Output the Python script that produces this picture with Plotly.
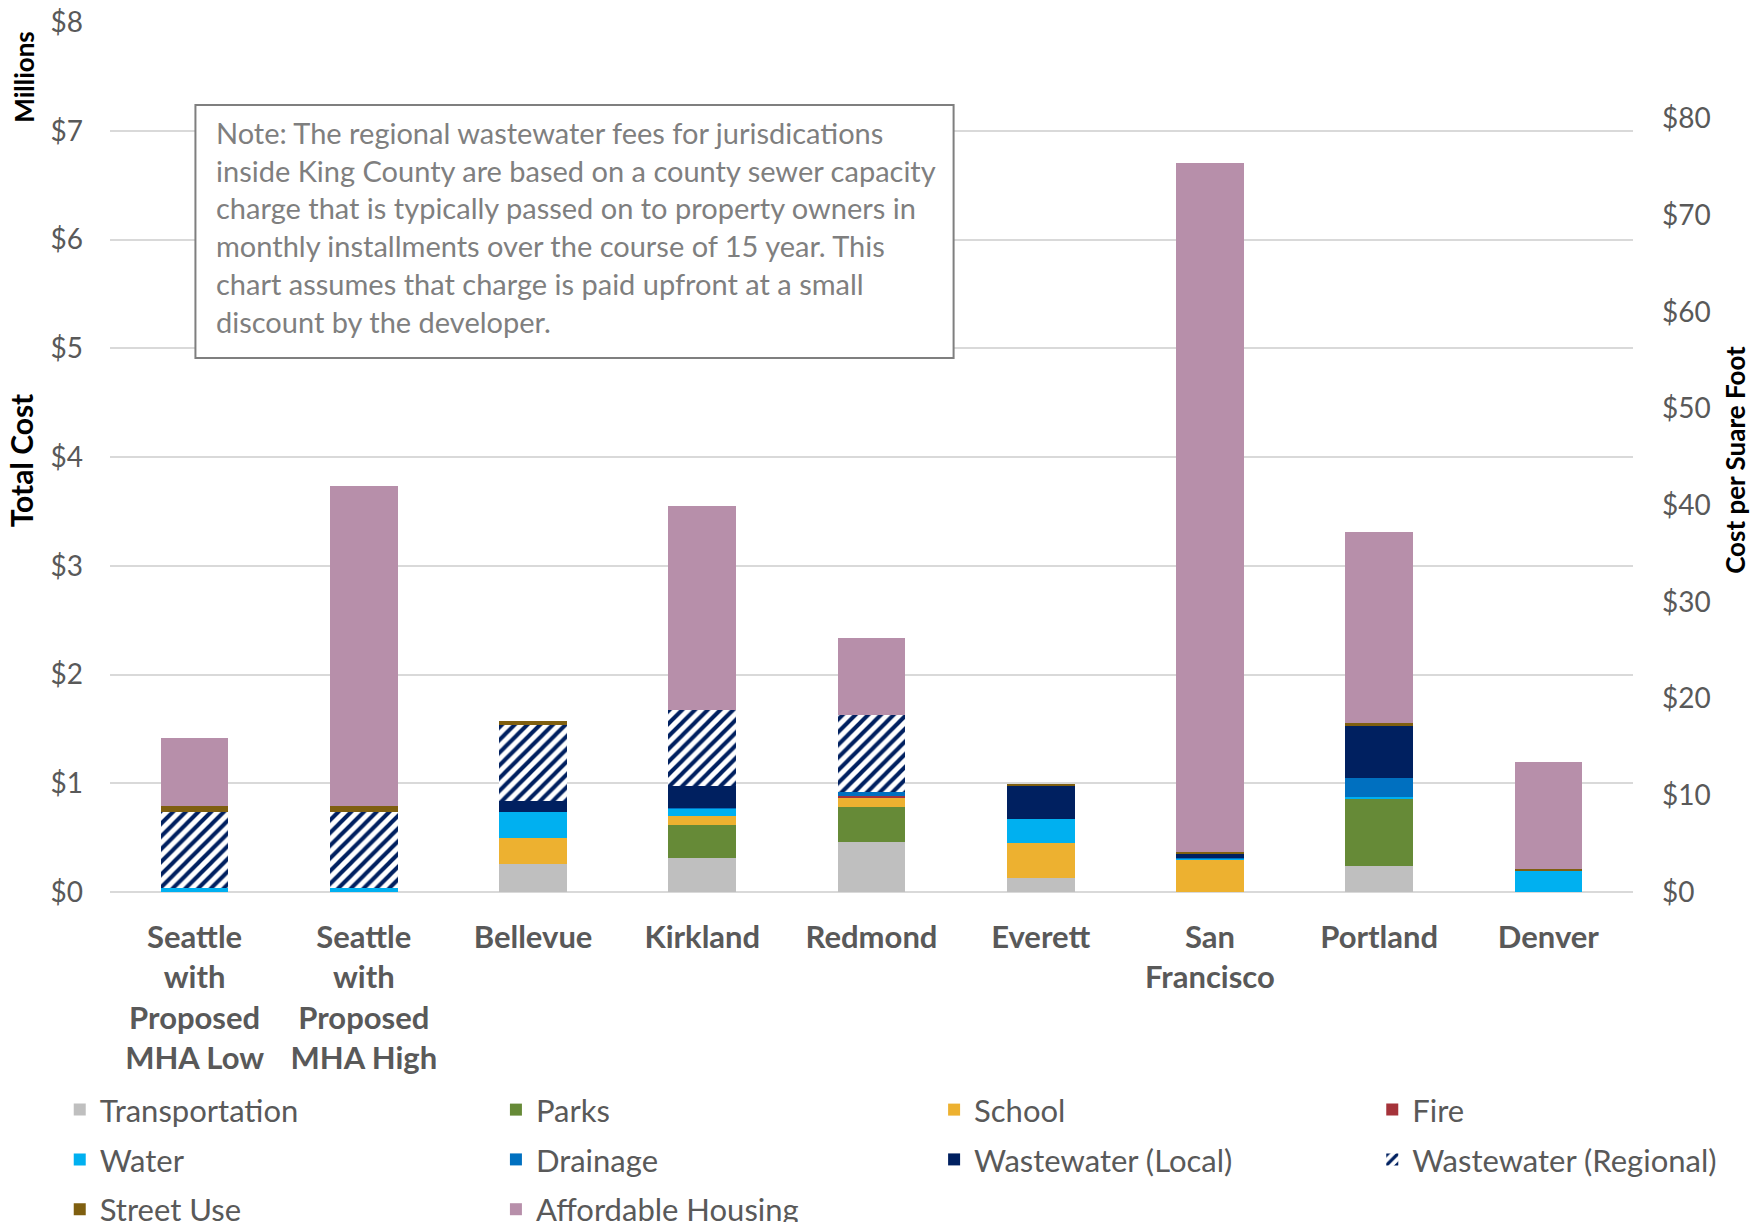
import plotly.graph_objects as go

categories = [
    "Seattle<br>with<br>Proposed<br>MHA Low",
    "Seattle<br>with<br>Proposed<br>MHA High",
    "Bellevue",
    "Kirkland",
    "Redmond",
    "Everett",
    "San<br>Francisco",
    "Portland",
    "Denver",
]

# values in $ millions
transportation = [0, 0, 0.26, 0.31, 0.46, 0.13, 0, 0.24, 0]
parks = [0, 0, 0, 0.31, 0.32, 0, 0, 0.62, 0]
school = [0, 0, 0.24, 0.08, 0.08, 0.32, 0.30, 0, 0]
fire = [0, 0, 0, 0, 0.02, 0, 0, 0, 0]
water = [0.04, 0.04, 0.24, 0.065, 0, 0.225, 0.01, 0.015, 0.19]
drainage = [0, 0, 0, 0.01, 0.04, 0, 0.005, 0.17, 0]
ww_local = [0, 0, 0.10, 0.20, 0, 0.305, 0.04, 0.49, 0]
ww_regional = [0.70, 0.70, 0.70, 0.70, 0.71, 0, 0, 0, 0]
street_use = [0.05, 0.05, 0.035, 0, 0, 0.01, 0.01, 0.015, 0.025]
affordable_housing = [0.63, 2.94, 0, 1.87, 0.71, 0, 6.34, 1.76, 0.98]

left_ticks = [0, 1, 2, 3, 4, 5, 6, 7, 8]
left_tick_text = ["$0", "$1", "$2", "$3", "$4", "$5", "$6", "$7", "$8"]
right_ticks = [0, 10, 20, 30, 40, 50, 60, 70, 80]
right_tick_text = ["$0", "$10", "$20", "$30", "$40", "$50", "$60", "$70", "$80"]

note_lines = [
    "Note: The regional wastewater fees for jurisdications",
    "inside King County are based on a county sewer capacity",
    "charge that is typically passed on to property owners in",
    "monthly installments over the course of 15 year. This",
    "chart assumes that charge is paid upfront at a small",
    "discount by the developer.",
]

series = [
    ("Transportation", transportation, "#BFBFBF"),
    ("Parks", parks, "#668A37"),
    ("School", school, "#EDB130"),
    ("Fire", fire, "#A5333A"),
    ("Water", water, "#00B0F0"),
    ("Drainage", drainage, "#0070C0"),
    ("Wastewater (Local)", ww_local, "#002060"),
    ("Wastewater (Regional)", ww_regional, None),
    ("Street Use", street_use, "#7F5F10"),
    ("Affordable Housing", affordable_housing, "#B78FAA"),
]

FONT = "Lato, 'Open Sans', sans-serif"
GRAY = "#595959"
legend_names = ["legend", "legend2", "legend3", "legend4"]

fig = go.Figure()
for i, (name, vals, color) in enumerate(series):
    if color is None:
        marker = dict(
            color="#002060",
            pattern=dict(shape="/", fgcolor="#002060", bgcolor="white",
                         size=9, solidity=0.45, fillmode="replace"),
            line=dict(width=0),
        )
    else:
        marker = dict(color=color, line=dict(width=0))
    fig.add_trace(go.Bar(x=categories, y=vals, name=name, marker=marker,
                         legend=legend_names[i % 4], legendgroup=name))

# helper for secondary axis
fig.add_trace(go.Scatter(x=[categories[0]], y=[0], yaxis="y2", mode="markers",
                         marker=dict(opacity=0), showlegend=False, hoverinfo="skip"))

legend_x = [-0.033, 0.2534, 0.5411, 0.8288]
legend_common = dict(
    orientation="v", xanchor="left", y=-0.2195, yanchor="top",
    font=dict(size=31, color=GRAY), traceorder="grouped", tracegroupgap=6.5,
    bgcolor="rgba(0,0,0,0)",
)

fig.update_layout(
    width=1750, height=1222,
    margin=dict(l=110, r=117, t=22, b=330, autoexpand=False),
    barmode="stack",
    bargap=0.6,
    plot_bgcolor="white",
    paper_bgcolor="white",
    font=dict(family=FONT, color=GRAY, size=28),
    xaxis=dict(
        tickfont=dict(family=FONT, size=31, color=GRAY, weight="bold"),
        showline=False, ticks="", ticklabelstandoff=24,
    ),
    yaxis=dict(
        range=[0, 8], tickmode="array", tickvals=left_ticks, ticktext=left_tick_text,
        tickfont=dict(size=28, color=GRAY),
        showgrid=True, gridcolor="#D9D9D9", gridwidth=2,
        zeroline=True, zerolinecolor="#D9D9D9", zerolinewidth=2,
        ticks="", ticklabelstandoff=26,
    ),
    yaxis2=dict(
        range=[0, 90], tickmode="array", tickvals=right_ticks, ticktext=right_tick_text,
        overlaying="y", side="right", showgrid=False, zeroline=False,
        tickfont=dict(size=28, color=GRAY), ticks="", ticklabelstandoff=28,
    ),
    legend=dict(x=legend_x[0], **legend_common),
    legend2=dict(x=legend_x[1], **legend_common),
    legend3=dict(x=legend_x[2], **legend_common),
    legend4=dict(x=legend_x[3], **legend_common),
    showlegend=True,
)

# note box
fig.add_shape(type="rect", xref="paper", yref="paper",
              x0=0.0561, x1=0.5539, y0=0.6138, y1=0.9046,
              line=dict(color="#7F7F7F", width=2), fillcolor="white", layer="above")
fig.add_annotation(
    xref="paper", yref="paper", x=0.0684, y=0.895, xanchor="left", yanchor="top",
    text="<br>".join(note_lines), align="left", showarrow=False,
    font=dict(size=29, color="#7F7F7F"),
)
fig.add_annotation(
    xref="paper", yref="paper", x=-0.0565, y=0.937, xanchor="center", yanchor="middle",
    textangle=-90, text="<b>Millions</b>", showarrow=False,
    font=dict(size=26, color="black"),
)
fig.add_annotation(
    xref="paper", yref="paper", x=-0.0582, y=0.4966, xanchor="center", yanchor="middle",
    textangle=-90, text="<b>Total Cost</b>", showarrow=False,
    font=dict(size=30, color="black"),
)
fig.add_annotation(
    xref="paper", yref="paper", x=1.0669, y=0.4966, xanchor="center", yanchor="middle",
    textangle=-90, text="<b>Cost per Suare Foot</b>", showarrow=False,
    font=dict(size=26, color="black"),
)

fig.write_html("out.html")
